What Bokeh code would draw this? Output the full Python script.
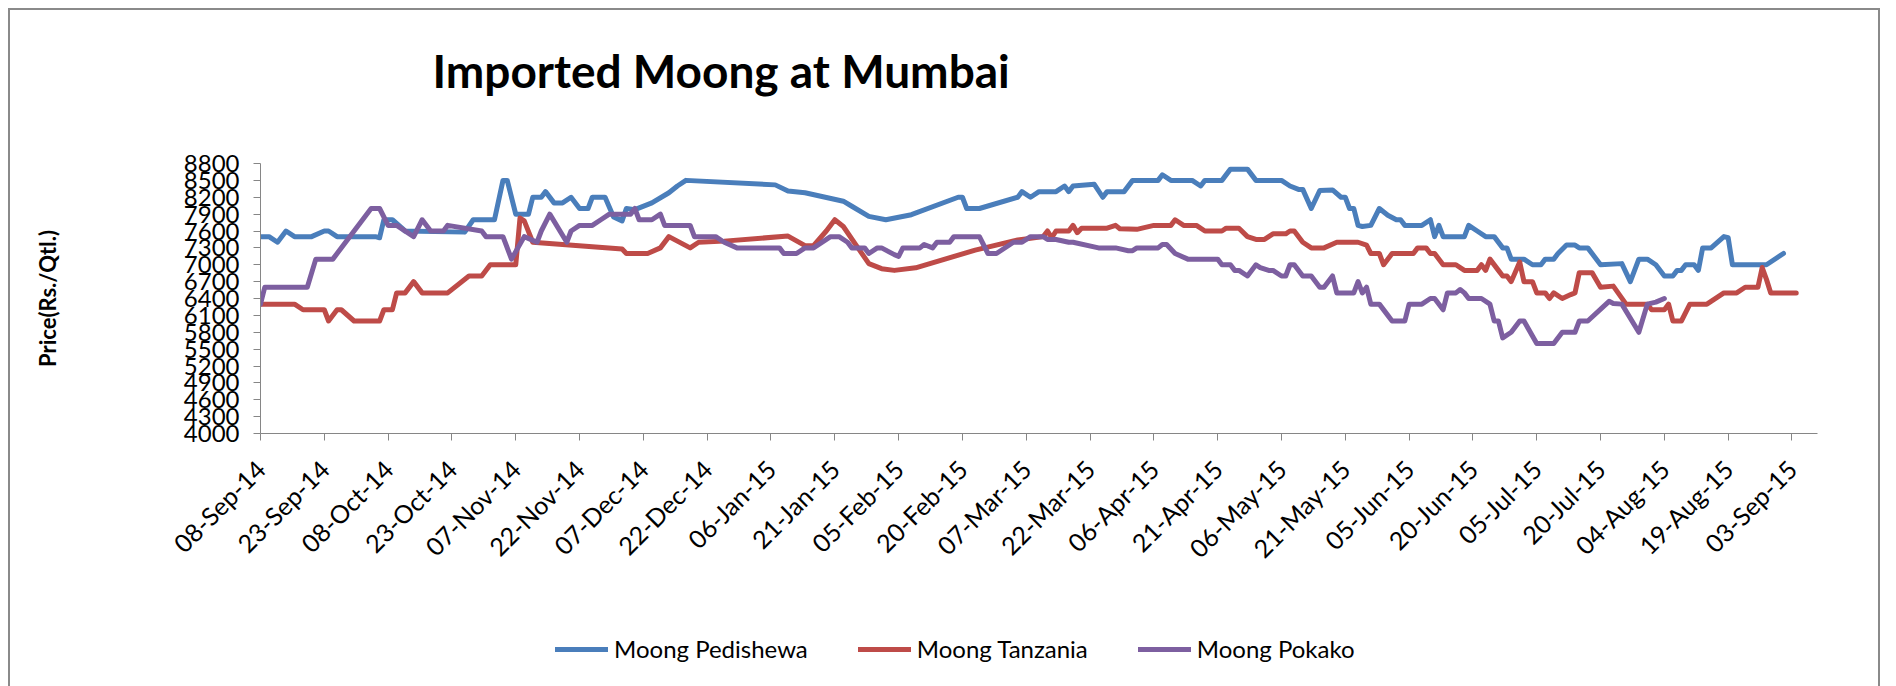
import math
import pandas as pd
from bokeh.plotting import figure
from bokeh.layouts import column
from bokeh.models import (Range1d, FixedTicker, DatetimeTickFormatter, Legend,
                          LegendItem, Label)
from bokeh.embed import file_html
from bokeh.resources import INLINE

# ---------------- data ----------------
chart_title = "Imported Moong at Mumbai"
y_title = "Price(Rs./Qtl.)"
start_date = "2014-09-08"
axis_end_day = 366
x_tick_labels = ["08-Sep-14", "23-Sep-14", "08-Oct-14", "23-Oct-14", "07-Nov-14",
                 "22-Nov-14", "07-Dec-14", "22-Dec-14", "06-Jan-15", "21-Jan-15",
                 "05-Feb-15", "20-Feb-15", "07-Mar-15", "22-Mar-15", "06-Apr-15",
                 "21-Apr-15", "06-May-15", "21-May-15", "05-Jun-15", "20-Jun-15",
                 "05-Jul-15", "20-Jul-15", "04-Aug-15", "19-Aug-15", "03-Sep-15"]
y_ticks = [4000, 4300, 4600, 4900, 5200, 5500, 5800, 6100, 6400, 6700,
           7000, 7300, 7600, 7900, 8200, 8500, 8800]
series_names = ["Moong Pedishewa", "Moong Tanzania", "Moong Pokako"]
series_colors = ["#4A7EBB", "#BE4B48", "#7D5FA0"]

# days counted from start_date
ped_day = [0, 2, 4, 6, 8, 12, 15, 16, 18, 27, 28, 29, 31, 34, 48, 50, 55, 57, 58, 60,
           63, 64, 66, 67, 69, 71, 73, 75, 77, 78, 81, 83, 85, 86, 88, 92, 96, 98, 100, 121,
           124, 128, 137, 139, 143, 147, 153, 164, 165, 166, 169, 178, 179, 181, 183, 187, 189, 190, 191, 196,
           198, 199, 203, 205, 211, 212, 214, 219, 221, 222, 226, 228, 232, 234, 240, 242, 244, 245, 247, 249,
           252, 254, 255, 256, 257, 258, 259, 261, 263, 265, 267, 268, 269, 273, 275, 276, 277, 278, 283, 284,
           286, 288, 290, 292, 293, 294, 297, 299, 301, 302, 304, 305, 307, 309, 310, 312, 315, 320, 322, 324,
           326, 328, 330, 332, 333, 334, 335, 337, 338, 339, 341, 344, 345, 346, 354, 358]
ped_price = [7500, 7500, 7400, 7600, 7500, 7500, 7600, 7600, 7500, 7500, 7480, 7800, 7800, 7600, 7580, 7800, 7800, 8500, 8500, 7900,
             7900, 8200, 8200, 8300, 8100, 8100, 8200, 8000, 8000, 8200, 8200, 7850, 7780, 8000, 7980, 8100, 8280, 8400, 8500, 8420,
             8310, 8280, 8130, 8040, 7860, 7800, 7890, 8200, 8200, 8000, 8000, 8200, 8300, 8200, 8300, 8300, 8400, 8300, 8400, 8430,
             8200, 8300, 8300, 8500, 8500, 8600, 8500, 8500, 8400, 8500, 8500, 8700, 8700, 8500, 8500, 8400, 8340, 8340, 8000, 8320,
             8330, 8200, 8200, 8000, 8000, 7700, 7680, 7700, 8000, 7880, 7800, 7800, 7700, 7700, 7800, 7500, 7700, 7500, 7500, 7700,
             7600, 7500, 7500, 7300, 7300, 7100, 7100, 7000, 7000, 7100, 7100, 7200, 7350, 7350, 7300, 7300, 7000, 7020, 6700, 7100,
             7100, 7000, 6800, 6800, 6900, 6900, 7000, 7000, 6900, 7300, 7300, 7500, 7480, 7000, 7000, 7200]

tan_day = [0, 8, 10, 15, 16, 18, 19, 22, 28, 29, 31, 32, 34, 36, 38, 44, 49, 52, 54, 59,
           60, 61, 62, 64, 85, 86, 91, 94, 96, 101, 103, 109, 124, 128, 130, 133, 135, 137, 140, 143,
           146, 149, 154, 168, 178, 184, 185, 186, 187, 190, 191, 192, 193, 199, 201, 202, 206, 210, 214, 215,
           217, 220, 222, 226, 227, 230, 232, 234, 236, 238, 241, 242, 243, 245, 247, 250, 253, 258, 260, 261,
           263, 264, 266, 271, 272, 274, 275, 276, 278, 281, 283, 286, 287, 288, 289, 291, 292, 293, 294, 296,
           297, 299, 300, 302, 303, 304, 306, 308, 309, 310, 313, 315, 318, 321, 326, 327, 330, 331, 332, 334,
           336, 340, 344, 347, 349, 352, 353, 354, 355, 358, 361]
tan_price = [6300, 6300, 6200, 6200, 6000, 6200, 6200, 6000, 6000, 6200, 6200, 6500, 6500, 6700, 6500, 6500, 6800, 6800, 7000, 7000,
             7000, 7830, 7780, 7400, 7280, 7200, 7200, 7300, 7500, 7300, 7400, 7420, 7510, 7340, 7340, 7600, 7800, 7680, 7350, 7020,
             6930, 6900, 6945, 7260, 7440, 7500, 7600, 7480, 7600, 7600, 7700, 7570, 7650, 7650, 7700, 7640, 7630, 7700, 7700, 7800,
             7700, 7700, 7600, 7600, 7650, 7650, 7500, 7450, 7450, 7550, 7550, 7600, 7600, 7400, 7300, 7300, 7400, 7400, 7350, 7200,
             7200, 7000, 7200, 7200, 7300, 7300, 7200, 7200, 7000, 7000, 6900, 6900, 7000, 6900, 7100, 6900, 6800, 6800, 6700, 7050,
             6700, 6700, 6500, 6500, 6400, 6500, 6400, 6470, 6500, 6860, 6860, 6600, 6620, 6300, 6300, 6200, 6200, 6300, 6000, 6000,
             6300, 6300, 6500, 6500, 6600, 6600, 6950, 6740, 6500, 6500, 6500]

pok_day = [0, 1, 11, 13, 17, 26, 28, 30, 32, 36, 38, 40, 43, 44, 52, 53, 57, 59, 62, 65,
           66, 68, 72, 73, 75, 78, 80, 82, 87, 88, 89, 92, 94, 95, 101, 102, 107, 109, 112, 122,
           123, 126, 128, 130, 134, 136, 138, 139, 142, 143, 145, 146, 149, 150, 151, 155, 156, 158, 159, 162,
           163, 169, 171, 173, 177, 179, 181, 184, 185, 187, 190, 191, 197, 201, 204, 205, 206, 211, 212, 213,
           215, 218, 225, 226, 228, 229, 230, 232, 234, 235, 237, 238, 240, 241, 242, 243, 245, 247, 249, 250,
           252, 253, 257, 258, 259, 260, 261, 263, 265, 266, 269, 270, 273, 275, 276, 278, 279, 281, 282, 283,
           284, 287, 289, 290, 291, 292, 294, 296, 297, 300, 304, 306, 309, 310, 312, 317, 318, 320, 324, 326,
           328, 330]
pok_price = [6300, 6600, 6600, 7100, 7100, 8000, 8000, 7700, 7700, 7500, 7800, 7600, 7600, 7700, 7600, 7500, 7500, 7100, 7500, 7400,
             7600, 7900, 7400, 7600, 7700, 7700, 7800, 7900, 7900, 8000, 7800, 7800, 7900, 7700, 7700, 7500, 7500, 7400, 7300, 7300,
             7200, 7200, 7300, 7300, 7500, 7500, 7400, 7300, 7300, 7200, 7300, 7300, 7180, 7150, 7300, 7300, 7360, 7300, 7400, 7400,
             7500, 7500, 7200, 7200, 7400, 7400, 7500, 7500, 7450, 7450, 7400, 7400, 7300, 7300, 7250, 7250, 7300, 7300, 7360, 7360,
             7200, 7100, 7100, 7000, 7000, 6900, 6900, 6800, 7000, 6950, 6900, 6900, 6800, 6800, 7000, 7000, 6800, 6800, 6600, 6600,
             6800, 6500, 6500, 6700, 6500, 6600, 6300, 6300, 6100, 6000, 6000, 6300, 6300, 6400, 6400, 6200, 6500, 6500, 6560, 6500,
             6400, 6400, 6300, 6000, 6000, 5700, 5800, 6000, 6000, 5600, 5600, 5800, 5800, 6000, 6000, 6350, 6310, 6300, 5800, 6300,
             6335, 6400]

# ---------------- chart ----------------
t0 = pd.Timestamp(start_date)


def to_dates(days):
    return [t0 + pd.Timedelta(days=d) for d in days]


tick_ms = [pd.to_datetime(s, format="%d-%b-%y").timestamp() * 1000 for s in x_tick_labels]
series = [(ped_day, ped_price), (tan_day, tan_price), (pok_day, pok_price)]

FONT = "Lato"
AXIS_COL = "#868686"
LINE_W = 5
W = 1868


def strip(height):
    f = figure(width=W, height=height, output_backend="svg", toolbar_location=None,
               x_range=Range1d(0, 1), y_range=Range1d(0, 1),
               x_axis_location=None, y_axis_location=None, min_border=0)
    f.outline_line_color = None
    f.xgrid.visible = False
    f.ygrid.visible = False
    f.background_fill_color = "white"
    f.border_fill_color = "white"
    return f


# title strip
pt = strip(100)
pt.add_layout(Label(x=172, y=40, x_units="screen", y_units="screen",
                    text=chart_title, text_font=FONT, text_font_style="bold",
                    text_font_size="46px", text_color="black",
                    text_baseline="alphabetic"))

# main chart
p = figure(width=W, height=500, output_backend="svg", toolbar_location=None,
           x_axis_type="datetime",
           x_range=Range1d(t0, t0 + pd.Timedelta(days=axis_end_day)),
           y_range=Range1d(4000, 8800),
           min_border_left=250, min_border_right=61, min_border_top=53,
           min_border_bottom=177)
p.background_fill_color = "white"
p.border_fill_color = "white"
p.outline_line_color = None
p.xgrid.visible = False
p.ygrid.visible = False

for (days, vals), col in zip(series, series_colors):
    p.line(to_dates(days), vals, line_color=col, line_width=LINE_W,
           line_join="round", line_cap="round")

# y axis
yax = p.yaxis[0]
yax.ticker = FixedTicker(ticks=y_ticks)
yax.axis_line_color = AXIS_COL
yax.major_tick_line_color = AXIS_COL
yax.minor_tick_line_color = None
yax.major_tick_out = 7
yax.major_tick_in = 0
yax.major_label_text_font = FONT
yax.major_label_text_font_size = "24px"
yax.major_label_text_color = "black"
yax.major_label_standoff = 14
yax.axis_label = y_title
yax.axis_label_text_font = FONT
yax.axis_label_text_font_style = "bold"
yax.axis_label_text_font_size = "22px"
yax.axis_label_text_color = "black"
yax.axis_label_standoff = 120

# x axis
xax = p.xaxis[0]
xax.ticker = FixedTicker(ticks=tick_ms)
fmt = "%d-%b-%y"
xax.formatter = DatetimeTickFormatter(
    microseconds=fmt, milliseconds=fmt, seconds=fmt, minsec=fmt, minutes=fmt,
    hourmin=fmt, hours=fmt, days=fmt, months=fmt, years=fmt,
    strip_leading_zeros=False)
xax.axis_line_color = AXIS_COL
xax.major_tick_line_color = AXIS_COL
xax.minor_tick_line_color = None
xax.major_tick_out = 7
xax.major_tick_in = 0
xax.major_label_orientation = math.pi / 4
xax.major_label_text_font = FONT
xax.major_label_text_font_size = "25px"
xax.major_label_text_color = "black"
xax.major_label_standoff = 24

# legend strip below the chart (series drawn far outside its 0..1 view, only the key shows)
pl = strip(80)
key_renderers = [pl.line([t.timestamp() * 1000 for t in to_dates(days)], vals,
                         line_color=c, line_width=LINE_W, line_cap="round")
                 for (days, vals), c in zip(series, series_colors)]
legend = Legend(items=[LegendItem(label=n, renderers=[r]) for n, r in zip(series_names, key_renderers)],
                orientation="horizontal", location=(295, 27),
                border_line_color=None, background_fill_alpha=0,
                padding=0, margin=0, spacing=50, glyph_width=53, glyph_height=20,
                label_standoff=6, label_text_font=FONT, label_text_font_size="24px",
                label_text_color="black")
pl.add_layout(legend)

layout = column(pt, p, pl, spacing=0,
                styles={"border": "2px solid #8a8a8a", "margin": "8px 0 0 8px"})

open("out.html", "w").write(file_html(layout, INLINE))
